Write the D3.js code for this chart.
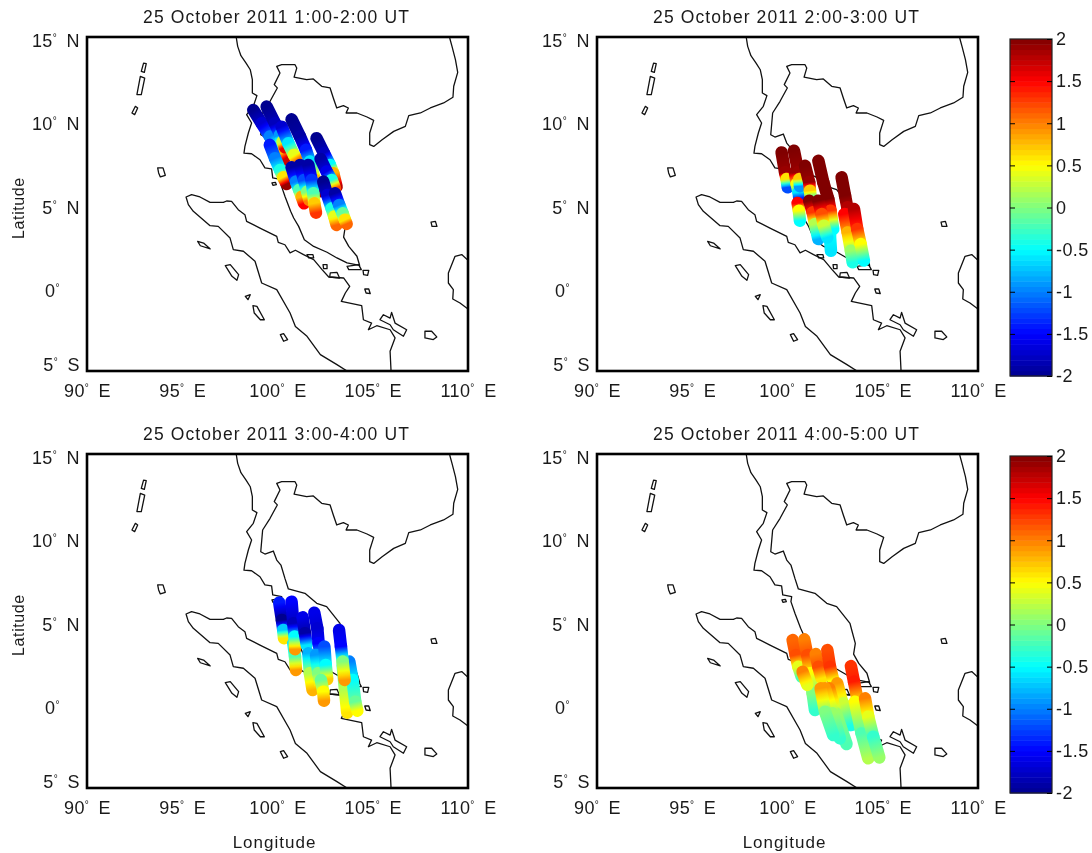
<!DOCTYPE html>
<html>
<head>
<meta charset="utf-8">
<script src="https://d3js.org/d3.v7.min.js"></script>
<style>
  html, body { margin: 0; padding: 0; background: #fff; }
  svg { display: block; filter: blur(0.45px); }
  text { font-family: "Liberation Sans", Arial, sans-serif; fill: #1a1a1a; }
  .coast { fill: none; stroke: #111; stroke-width: 1.3; stroke-linejoin: round; }
</style>
</head>
<body>
<div id="viz"></div>
<script>
const titles = [
  "25 October 2011 1:00-2:00 UT",
  "25 October 2011 2:00-3:00 UT",
  "25 October 2011 3:00-4:00 UT",
  "25 October 2011 4:00-5:00 UT"
];
const lonTicks = [90, 95, 100, 105, 110];
const latTicks = [15, 10, 5, 0, -5];
const colorTicks = [2, 1.5, 1, 0.5, 0, -0.5, -1, -1.5, -2];
const jetValues = [-2, -1.5, -0.5, 0.5, 1.5, 2];
const jetColors = ["#00008f", "#0000ff", "#00ffff", "#ffff00", "#ff0000", "#800000"];

// coastlines, [lon, lat]
const coastMainland = [[97.84,14.94],[97.91,14.44],[98.08,13.88],[98.35,13.44],[98.57,13.04],[98.68,12.45],[98.68,11.65],[98.92,11.49],[98.73,10.85],[98.38,10.35],[98.64,9.85],[98.47,9.25],[98.29,8.45],[98.24,8.05],[98.64,8.01],[99.08,7.65],[99.34,7.16],[99.69,7.10],[99.75,6.56],[100.22,6.46],[100.18,6.16],[100.39,5.46],[100.69,4.56],[100.85,4.16],[101.11,3.66],[101.41,2.86],[101.90,2.46],[102.60,2.11],[103.12,1.77],[103.65,1.47],[104.31,1.33],[104.17,1.87],[103.74,2.46],[103.47,3.02],[103.56,3.66],[103.37,4.46],[103.28,4.86],[102.58,5.86],[102.06,6.06],[101.44,6.66],[100.57,6.92],[100.39,7.55],[100.18,8.35],[99.96,8.65],[99.78,9.19],[99.34,9.01],[99.12,9.15],[99.22,10.45],[99.61,11.15],[99.99,11.95],[99.83,12.15],[100.13,12.84],[99.96,13.24],[100.22,13.34],[100.92,13.34],[101.01,13.14],[100.87,12.60],[101.53,12.45],[101.88,12.49],[102.32,12.05],[102.76,11.95],[102.93,11.35],[103.11,10.75],[103.46,10.89],[103.72,10.75],[103.60,10.45],[104.17,10.45],[104.70,10.21],[105.05,10.01],[104.84,9.25],[104.84,8.55],[105.05,8.45],[105.49,8.85],[106.10,9.35],[106.71,9.65],[106.89,10.29],[107.50,10.45],[108.02,10.75],[108.72,11.05],[109.21,11.39],[109.25,12.05],[109.46,12.88],[109.34,13.64],[109.16,14.44],[109.04,14.94]];
const coastSumatra = [[103.65,-5],[103.12,-4.62],[102.25,-4.02],[101.55,-2.92],[100.94,-2.33],[100.66,-1.53],[99.96,-0.13],[99.17,0.27],[98.82,1.57],[98.21,2.17],[97.68,2.27],[97.51,2.96],[96.89,3.66],[96.46,3.70],[95.58,4.56],[95.32,4.96],[95.20,5.42],[95.49,5.56],[95.93,5.42],[96.46,5.10],[97.16,5.10],[97.33,5.18],[97.59,5.16],[97.94,4.66],[98.29,4.36],[98.38,3.96],[99.08,3.56],[99.96,3.06],[100.04,2.70],[100.39,2.56],[100.66,2.07],[100.94,2.23],[101.37,1.97],[101.90,1.67],[102.34,1.07],[102.69,0.63],[103.47,0.57],[103.79,0.07],[103.56,-0.33],[103.35,-0.83],[104.42,-1.09],[104.51,-1.93],[104.94,-2.13],[104.77,-2.53],[105.21,-2.29],[105.91,-2.53],[106.17,-3.02],[105.91,-3.82],[105.96,-5]];
const coastBorneo = [[110,1.63],[109.67,1.97],[109.32,1.87],[108.97,0.87],[108.97,0.27],[109.23,-0.13],[109.20,-0.69],[109.58,-0.93],[110,-1.29]];
const islands = [
  [[92.97,13.44],[93.11,13.40],[93.01,12.88],[92.85,12.94]],
  [[92.80,12.64],[93.03,12.54],[92.85,11.55],[92.62,11.55]],
  [[92.54,10.85],[92.66,10.75],[92.50,10.35],[92.36,10.45]],
  [[93.71,7.16],[93.99,7.16],[94.11,6.72],[93.85,6.62],[93.76,6.86]],
  [[95.81,2.76],[96.12,2.66],[96.47,2.31],[95.95,2.50]],
  [[97.26,1.31],[97.52,1.37],[97.96,0.77],[97.87,0.43],[97.61,0.67]],
  [[98.31,-0.53],[98.57,-0.43],[98.45,-0.73]],
  [[98.71,-1.09],[98.92,-1.13],[99.31,-1.93],[99.10,-1.93],[98.78,-1.53]],
  [[100.15,-2.82],[100.32,-2.76],[100.53,-3.12],[100.32,-3.22]],
  [[99.71,6.26],[99.89,6.30],[99.94,6.16],[99.76,6.12]],
  [[108.06,3.92],[108.29,3.96],[108.37,3.66],[108.11,3.66]],
  [[101.55,1.97],[101.86,1.97],[101.90,1.77],[101.64,1.77]],
  [[102.39,1.37],[102.60,1.37],[102.60,1.13],[102.42,1.13]],
  [[102.77,0.87],[103.12,0.91],[103.26,0.57],[102.74,0.63]],
  [[103.65,1.27],[104.26,1.37],[104.40,1.07],[103.74,1.07]],
  [[104.49,1.03],[104.79,1.03],[104.73,0.73],[104.52,0.77]],
  [[104.58,-0.09],[104.79,-0.09],[104.87,-0.37],[104.65,-0.33]],
  [[105.38,-1.93],[105.56,-1.63],[105.91,-1.83],[105.99,-1.49],[106.17,-2.13],[106.78,-2.53],[106.61,-2.92],[106.08,-2.53],[105.91,-2.23]],
  [[107.74,-2.62],[108.09,-2.62],[108.36,-2.96],[108.18,-3.12],[107.74,-3.02]]
];

// satellite tracks, one list of [lon, lat, value] per pass
const tracks1 = [
  [[98.73,10.63,-2],[99.17,9.83,-1.7],[99.60,9.04,-1],[99.95,8.44,-0.3],[100.16,8.00,0.8],[100.34,7.68,1.7]],
  [[99.43,10.83,-2],[99.87,9.83,-1.8],[100.13,9.14,-0.9],[100.27,8.74,0.3],[100.39,8.40,1.6]],
  [[100.22,9.63,-1.7],[100.57,8.64,-0.6],[100.86,7.94,0.4],[101.00,7.68,1]],
  [[99.60,8.54,-1.4],[99.87,7.74,-1],[100.13,7.04,-0.4],[100.30,6.60,0.6],[100.48,6.20,1.9]],
  [[100.74,10.07,-2],[101.18,9.04,-1.9],[101.49,8.24,-1.4],[101.70,7.54,-0.6],[101.97,6.44,0.8],[102.14,5.74,1.9]],
  [[102.05,8.94,-2],[102.44,8.04,-1.8],[102.75,7.34,-0.5],[102.93,6.84,0.8],[103.10,6.04,1.8]],
  [[102.26,7.70,-1.9],[102.58,6.94,-1.6],[102.84,6.44,-0.4],[103.02,5.94,1.2]],
  [[100.74,7.20,-1.9],[100.97,6.34,-1],[101.14,5.84,-0.2],[101.27,5.44,0.8],[101.39,5.04,1.5]],
  [[101.18,7.34,-1.9],[101.39,6.44,-1.2],[101.56,5.74,0],[101.67,5.24,1]],
  [[101.62,7.34,-1.9],[101.79,6.44,-1.3],[101.88,5.64,-0.2],[101.93,5.04,0.7],[102.02,4.48,1.3]],
  [[102.40,6.34,-2],[102.61,5.54,-1.7],[102.84,4.74,-0.4],[102.98,4.25,0.4],[103.10,3.75,1.1]],
  [[103.02,5.64,-1.9],[103.24,4.94,-1],[103.42,4.44,-0.1],[103.54,4.05,0.6],[103.63,3.81,1.1]]
];
const tracks2 = [
  [[99.69,8.09,2],[99.87,6.90,1.9],[99.95,6.50,0.6],[100.01,6.00,-1.2]],
  [[100.39,6.90,1.9],[100.48,6.20,0.5],[100.58,5.70,-0.6],[100.62,5.34,-1.4]],
  [[100.34,8.19,2],[100.57,6.90,1.9],[100.62,6.50,0.7],[100.65,6.06,-0.9]],
  [[100.53,5.06,1.5],[100.60,4.60,0.5],[100.65,4.00,-0.5]],
  [[100.92,7.29,2],[101.14,6.30,1.9],[101.18,5.80,0.7],[101.21,5.50,0]],
  [[102.02,5.00,1.9],[102.14,4.10,1.0],[102.23,3.10,-0.5],[102.28,2.20,-0.6]],
  [[101.62,7.59,2],[101.88,6.30,2],[102.14,5.30,2],[102.26,4.60,1.3],[102.40,3.50,-0.5]],
  [[101.14,5.20,2],[101.32,4.50,1.3],[101.44,3.80,0.2],[101.62,2.90,-0.8]],
  [[101.62,5.20,2],[101.79,4.40,1.2],[101.91,3.70,0.3],[102.09,3.00,-0.6]],
  [[102.84,6.60,2],[103.02,5.50,2],[103.14,4.80,1.8],[103.23,4.20,0.6],[103.28,3.40,-1.2]],
  [[102.98,4.40,1.5],[103.16,3.30,0.8],[103.33,2.20,0.1],[103.42,1.51,-0.4]],
  [[103.49,4.70,1.8],[103.66,3.50,1.3],[103.84,2.60,0.5],[104.01,1.61,-0.5]]
];
const tracks3 = [
  [[100.09,6.10,-1.4],[100.23,5.06,-2],[100.30,4.46,-0.7],[100.34,3.97,0.6]],
  [[100.83,3.67,-0.6],[100.92,2.87,-0.2],[100.97,2.07,0.9]],
  [[100.74,6.16,-1.5],[100.83,4.86,-1.8],[100.90,4.07,-0.5],[100.92,3.31,0.9]],
  [[101.32,5.22,-1.6],[101.44,4.27,-1.9],[101.53,3.57,-0.6]],
  [[101.93,5.50,-1.6],[102.09,4.56,-1.7],[102.16,3.67,-1.5],[102.26,2.97,-0.7]],
  [[101.62,3.07,-0.8],[101.70,1.87,0.2],[101.84,0.87,0.8]],
  [[102.02,2.97,-0.9],[102.14,1.87,0],[102.28,0.97,0.8]],
  [[102.46,3.47,-1.2],[102.53,2.37,-0.5],[102.61,1.51,0.7]],
  [[102.28,1.47,-0.1],[102.40,0.77,0.5],[102.44,0.23,0.9]],
  [[103.42,2.37,-0.3],[103.54,0.87,0.2],[103.66,-0.49,0.6]],
  [[103.77,2.57,-1],[103.94,1.47,-0.5],[104.08,0.17,-0.1],[104.19,-0.37,0.5]],
  [[103.23,4.46,-1.6],[103.33,3.47,-1.5],[103.42,2.57,0],[103.52,1.47,0.9]]
];
const tracks4 = [
  [[100.27,3.86,1.1],[100.43,2.96,1.2],[100.57,2.26,0.4],[100.74,1.67,-0.2]],
  [[100.88,3.90,1.0],[101.04,2.96,1.2],[101.18,1.87,0.5],[101.32,0.67,0],[101.44,-0.33,-0.3]],
  [[101.48,3.02,1.0],[101.62,2.26,1.2],[101.79,1.57,0.6]],
  [[100.79,1.96,1],[101.04,1.17,0.4]],
  [[102.09,3.26,1.2],[102.23,2.26,1.3],[102.40,1.47,0.5]],
  [[102.61,1.27,0.9],[102.93,-0.13,0.2],[103.24,-1.23,-0.4]],
  [[102.93,0.07,0.3],[103.37,-1.23,-0.4]],
  [[102.19,0.97,1],[102.54,-0.53,0.1],[103.10,-2.37,-0.2]],
  [[101.97,0.97,0.9],[102.37,-0.53,0.1],[102.75,-2.03,-0.3]],
  [[101.74,0.97,0.9],[101.97,-0.43,0],[102.40,-1.83,-0.3]],
  [[103.33,2.30,1.3],[103.49,1.37,1.4],[103.66,0.37,0.7]],
  [[103.54,0.17,0.5],[103.89,-1.73,-0.2],[104.24,-3.22,0.2]],
  [[104.07,0.37,1.0],[104.24,-0.73,0.4],[104.50,-1.93,-0.3],[104.82,-3.18,0.1]]
];

const jet = d3.scaleLinear().domain(jetValues).range(jetColors);
const svg = d3.select("#viz").append("svg").attr("width", 1092).attr("height", 853);
const defs = svg.append("defs");

const plotW = 381, plotH = 334;
const x = d3.scaleLinear().domain([90, 110]).range([0, plotW]);
const y = d3.scaleLinear().domain([-5, 15]).range([plotH, 0]);
const pathLine = d3.line().x(d => x(d[0])).y(d => y(d[1]));
let gradCount = 0;

// rebuild a tick label as number, small raised degree sign, hemisphere
function degreeLabel(text, number, hemi) {
  text.text(null);
  text.append("tspan").text(number);
  text.append("tspan").attr("dy", -6).attr("font-size", 10).text("°");
  text.append("tspan").attr("dy", 6).attr("dx", 4).text(hemi);
}

function drawTrack(g, track) {
  d3.pairs(track).forEach(([a, b]) => {
    const id = "grad" + (gradCount++);
    const grad = defs.append("linearGradient")
      .attr("id", id)
      .attr("gradientUnits", "userSpaceOnUse")
      .attr("x1", x(a[0])).attr("y1", y(a[1]))
      .attr("x2", x(b[0])).attr("y2", y(b[1]));
    d3.range(0, 1.01, 0.25).forEach(t => {
      grad.append("stop").attr("offset", t).attr("stop-color", jet(a[2] + (b[2] - a[2]) * t));
    });
    g.append("line")
      .attr("x1", x(a[0])).attr("y1", y(a[1]))
      .attr("x2", x(b[0]) + 0.01).attr("y2", y(b[1]))
      .attr("stroke", "url(#" + id + ")")
      .attr("stroke-width", 12.5)
      .attr("stroke-linecap", "round");
  });
}

function drawPanel(px, py, title, tracks, showLat, showLon) {
  const g = svg.append("g").attr("transform", `translate(${px},${py})`);
  const clipId = "clip" + px + "_" + py;
  g.append("clipPath").attr("id", clipId).append("rect").attr("width", plotW).attr("height", plotH);

  const map = g.append("g").attr("clip-path", `url(#${clipId})`);
  [coastMainland, coastSumatra, coastBorneo].forEach(c => {
    map.append("path").attr("class", "coast").attr("d", pathLine(c));
  });
  islands.forEach(c => {
    map.append("path").attr("class", "coast").attr("d", pathLine(c) + "Z");
  });
  tracks.forEach(t => drawTrack(map, t));

  g.append("rect").attr("width", plotW).attr("height", plotH)
    .attr("fill", "none").attr("stroke", "#000").attr("stroke-width", 2.6);

  const xAxis = g.append("g").attr("transform", `translate(0,${plotH})`)
    .call(d3.axisBottom(x).tickValues(lonTicks).tickSize(0).tickPadding(13));
  xAxis.select(".domain").remove();
  xAxis.selectAll("text").attr("font-size", 18).attr("letter-spacing", 0.4)
    .each(function(d) { degreeLabel(d3.select(this), d, "\u00a0E"); });

  const yAxis = g.append("g")
    .call(d3.axisLeft(y).tickValues(latTicks).tickSize(0).tickPadding(7));
  yAxis.select(".domain").remove();
  yAxis.selectAll("text").attr("font-size", 18).attr("letter-spacing", 0.4)
    .attr("dy", d => d === -5 ? "-0.02em" : "0.52em")
    .each(function(d) {
      const hemi = d > 0 ? "\u00a0N" : d < 0 ? "\u00a0S" : "\u00a0\u00a0\u00a0";
      degreeLabel(d3.select(this), Math.abs(d), hemi);
    });

  g.append("text").attr("x", plotW / 2 - 1).attr("y", -14).attr("text-anchor", "middle")
    .attr("font-size", 17.5).attr("letter-spacing", 1.1).text(title);

  if (showLat) {
    g.append("text")
      .attr("transform", `translate(-63,${plotH / 2 + 4}) rotate(-90)`)
      .attr("text-anchor", "middle").attr("font-size", 16).attr("letter-spacing", 0.6).text("Latitude");
  }
  if (showLon) {
    g.append("text").attr("x", plotW / 2 - 3).attr("y", plotH + 60)
      .attr("text-anchor", "middle").attr("font-size", 17).attr("letter-spacing", 1).text("Longitude");
  }
}

function drawColorbar(cx, cy) {
  const w = 42, h = 337;
  const c = d3.scaleLinear().domain([-2, 2]).range([h, 0]);
  const g = svg.append("g").attr("transform", `translate(${cx},${cy})`);
  const steps = d3.range(64).map(i => -2 + (i + 0.5) / 16);
  g.selectAll("rect.step").data(steps).enter().append("rect")
    .attr("class", "step")
    .attr("x", 0).attr("width", w)
    .attr("y", d => c(d + 1 / 32))
    .attr("height", h / 64 + 0.5)
    .attr("fill", d => jet(d));
  g.append("rect").attr("width", w).attr("height", h)
    .attr("fill", "none").attr("stroke", "#222").attr("stroke-width", 1.2);

  const right = g.append("g").attr("transform", `translate(${w},0)`)
    .call(d3.axisRight(c).tickValues(colorTicks).tickFormat(d => String(d)).tickSize(-5).tickPadding(4));
  right.select(".domain").remove();
  right.selectAll("text").attr("font-size", 18).attr("letter-spacing", 0.4);
  const left = g.append("g").call(d3.axisLeft(c).tickValues(colorTicks.slice(1, -1)).tickFormat("").tickSize(-5));
  left.select(".domain").remove();
}

drawPanel(87, 37, titles[0], tracks1, true, false);
drawPanel(597, 37, titles[1], tracks2, false, false);
drawPanel(87, 454, titles[2], tracks3, true, true);
drawPanel(597, 454, titles[3], tracks4, false, true);
drawColorbar(1010, 39);
drawColorbar(1010, 456);
</script>
</body>
</html>
